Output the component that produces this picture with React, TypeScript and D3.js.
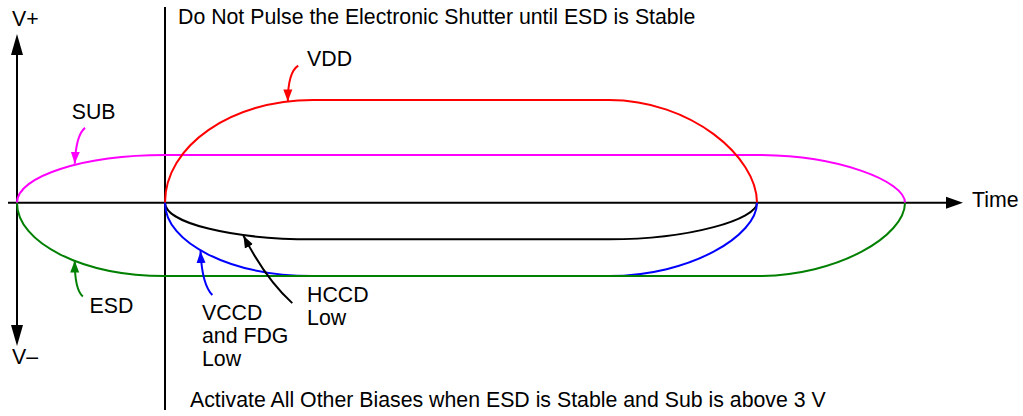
import { useEffect, useRef } from 'react';
import * as d3 from 'd3';

// supply sequence: each bias ramps from 0 to its level, holds, then ramps back
const SIGNALS = ['SUB', 'VDD', 'HCCD', 'VCCD', 'ESD'];
const LEVELS = [6.5, 14, -5, -10, -10];
const RAMP_START = [0, 10, 10, 10, 0];
const RAMP_DONE = [10, 20, 20, 20, 10];
const FALL_START = [50, 40, 40, 40, 50];
const FALL_END = [60, 50, 50, 50, 60];
const COLORS = ['#FF00FF', '#FF0000', '#000000', '#0000FF', '#008000'];

// callouts: text lines, arrow tail / bend / tip in (time, volts)
const CALLOUT_TEXT = [['SUB'], ['VDD'], ['HCCD', 'Low'], ['VCCD', 'and FDG', 'Low'], ['ESD']];
const CALLOUT_TAIL: [number, number][] = [[4.6, 10.2], [19.0, 18.7], [18.6, -13.7], [13.2, -12.6], [4.45, -12.8]];
const CALLOUT_BEND: [number, number][] = [[4.0, 9.3], [18.3, 17.8], [16.8, -10.4], [12.5, -11.2], [3.9, -11.9]];
const CALLOUT_TIP: [number, number][] = [[3.9, 5.3], [18.3, 13.8], [15.3, -4.5], [12.4, -6.6], [3.9, -7.9]];
const CALLOUT_AT: [number, number][] = [[3.7, 11.4], [19.6, 18.7], [19.6, -13.55], [12.5, -16.0], [4.9, -15.0]];
const CALLOUT_LEADING = [0, 0, 23, 23, 0];

const TOP_NOTE = 'Do Not Pulse the Electronic Shutter until ESD is Stable';
const BOTTOM_NOTE = 'Activate All Other Biases when ESD is Stable and Sub is above 3 V';

const FONT = "'Liberation Sans', Arial, Helvetica, sans-serif";
const FS = 21.3;
const K = 0.5523;

export default function App() {
  const svgRef = useRef<SVGSVGElement>(null);

  useEffect(() => {
    const el = svgRef.current;
    if (!el) return;
    const svg = d3.select(el);
    svg.selectAll('*').remove();

    const W = 1023;
    const H = 416;
    svg.attr('width', W).attr('height', H);

    const x = d3.scaleLinear().domain([0, 60]).range([17, 905]);
    const y = d3.scaleLinear().domain([-10, 14]).range([276, 100]);
    const y0 = y(0);

    const defs = svg.append('defs');
    COLORS.forEach((c, i) => {
      defs.append('marker')
        .attr('id', `head-${i}`)
        .attr('markerUnits', 'userSpaceOnUse')
        .attr('markerWidth', 12).attr('markerHeight', 10)
        .attr('viewBox', '0 0 12 10')
        .attr('refX', 12).attr('refY', 5)
        .attr('orient', 'auto')
        .append('path').attr('d', 'M0,0.5 L12,5 L0,9.5 z').attr('fill', c);
    });

    // power-on marker line
    svg.append('line')
      .attr('x1', x(10)).attr('x2', x(10))
      .attr('y1', 7).attr('y2', 410)
      .attr('stroke', '#000').attr('stroke-width', 2);

    // time axis
    svg.append('line')
      .attr('x1', 8).attr('x2', 947)
      .attr('y1', y0).attr('y2', y0)
      .attr('stroke', '#000').attr('stroke-width', 2);
    svg.append('path')
      .attr('d', `M946,${y0 - 6} L963,${y0} L946,${y0 + 6} z`)
      .attr('fill', '#000');

    // voltage axis
    const ax = x(0);
    svg.append('line')
      .attr('x1', ax).attr('x2', ax)
      .attr('y1', 54).attr('y2', 326)
      .attr('stroke', '#000').attr('stroke-width', 2);
    svg.append('path')
      .attr('d', `M${ax - 6},55 L${ax},34 L${ax + 6},55 z`)
      .attr('fill', '#000');
    svg.append('path')
      .attr('d', `M${ax - 6},325 L${ax},346 L${ax + 6},325 z`)
      .attr('fill', '#000');

    // signal traces
    SIGNALS.forEach((_, i) => {
      const x0 = x(RAMP_START[i]);
      const x1 = x(RAMP_DONE[i]);
      const x2 = x(FALL_START[i]);
      const x3 = x(FALL_END[i]);
      const yl = y(LEVELS[i]);
      const p = d3.path();
      p.moveTo(x0, y0);
      p.bezierCurveTo(x0, y0 + K * (yl - y0), x1 - K * (x1 - x0), yl, x1, yl);
      p.lineTo(x2, yl);
      p.bezierCurveTo(x2 + K * (x3 - x2), yl, x3, yl + K * (y0 - yl), x3, y0);
      svg.append('path')
        .attr('d', p.toString())
        .attr('fill', 'none')
        .attr('stroke', COLORS[i])
        .attr('stroke-width', 2);
    });

    // callouts
    CALLOUT_TEXT.forEach((lines, i) => {
      const [tx, tv] = CALLOUT_TAIL[i];
      const [bx, bv] = CALLOUT_BEND[i];
      const [px, pv] = CALLOUT_TIP[i];
      svg.append('path')
        .attr('d', `M${x(tx)},${y(tv)} Q${x(bx)},${y(bv)} ${x(px)},${y(pv)}`)
        .attr('fill', 'none')
        .attr('stroke', COLORS[i])
        .attr('stroke-width', 2)
        .attr('marker-end', `url(#head-${i})`);

      const [lx, lv] = CALLOUT_AT[i];
      const t = svg.append('text')
        .attr('x', x(lx)).attr('y', y(lv))
        .attr('font-family', FONT).attr('font-size', FS).attr('fill', '#000');
      lines.forEach((ln, j) => {
        t.append('tspan')
          .attr('x', x(lx))
          .attr('dy', j === 0 ? 0 : CALLOUT_LEADING[i])
          .text(ln);
      });
    });

    const label = (tx: number, ty: number, s: string) =>
      svg.append('text')
        .attr('x', tx).attr('y', ty)
        .attr('font-family', FONT).attr('font-size', FS).attr('fill', '#000')
        .text(s);

    label(178, 24, TOP_NOTE);
    label(190, 407, BOTTOM_NOTE);
    label(972, 207, 'Time');
    label(12, 26, 'V+');
    label(12, 364, 'V–');
  }, []);

  return (
    <svg
      ref={svgRef}
      style={{ position: 'absolute', left: 0, top: 0, background: '#fff', display: 'block' }}
    />
  );
}
